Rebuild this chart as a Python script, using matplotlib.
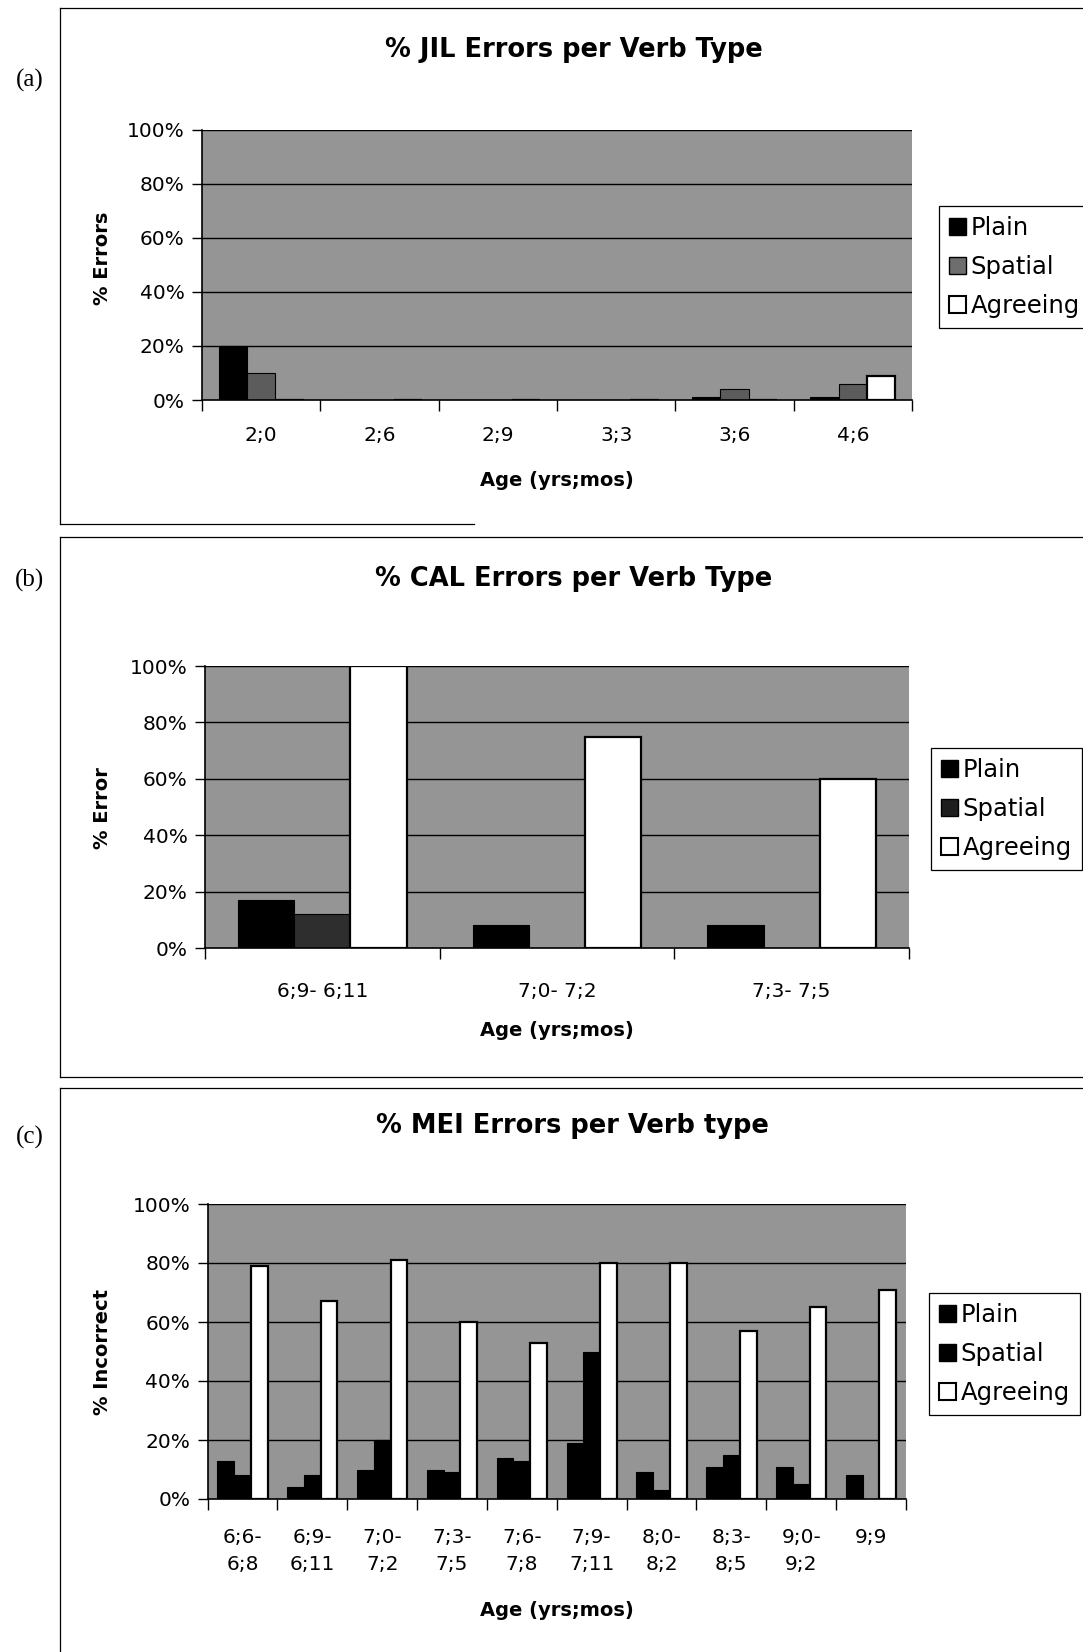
import matplotlib

matplotlib.use("Agg")
import matplotlib.pyplot as plt
import numpy as np
from matplotlib.lines import Line2D
from matplotlib.patches import Patch

W, H = 1083, 1652

# panel (a) JIL
jil_ages = ["2;0", "2;6", "2;9", "3;3", "3;6", "4;6"]
jil_plain = [20, 0, 0, 0, 1, 1]
jil_spatial = [10, 0, 0, 0, 4, 6]
jil_agreeing = [0, 0, 0, 0, 0, 9]

# panel (b) CAL
cal_ages = ["6;9- 6;11", "7;0- 7;2", "7;3- 7;5"]
cal_plain = [17, 8, 8]
cal_spatial = [12, 0, 0]
cal_agreeing = [100, 75, 60]

# panel (c) MEI
mei_ages = ["6;6-\n6;8", "6;9-\n6;11", "7;0-\n7;2", "7;3-\n7;5", "7;6-\n7;8",
            "7;9-\n7;11", "8;0-\n8;2", "8;3-\n8;5", "9;0-\n9;2", "9;9\n"]
mei_plain = [13, 4, 10, 10, 14, 19, 9, 11, 11, 8]
mei_spatial = [8, 8, 20, 9, 13, 50, 3, 15, 5, 0]
mei_agreeing = [79, 67, 81, 60, 53, 80, 80, 57, 65, 71]

yticks = [0, 20, 40, 60, 80, 100]
series_names = ["Plain", "Spatial", "Agreeing"]

BG = "#959595"
SANS = "DejaVu Sans"


def rect(x0, y0, x1, y1):
    return [x0 / W, 1 - y1 / H, (x1 - x0) / W, (y1 - y0) / H]


def fx(x):
    return x / W


def fy(y):
    return 1 - y / H


def hline(fig, y, x0, x1):
    fig.add_artist(Line2D([fx(x0), fx(x1)], [fy(y), fy(y)], color="black", lw=0.9))


def vline(fig, x, y0, y1):
    fig.add_artist(Line2D([fx(x), fx(x)], [fy(y0), fy(y1)], color="black", lw=0.9))


def draw_panel(fig, box, ages, plain, spatial, agreeing, spatial_color, xpad, linespacing=1.2):
    ax = fig.add_axes(rect(*box))
    x = np.arange(len(ages))
    w = 0.24
    ax.set_facecolor(BG)
    for yv in yticks[1:]:
        ax.axhline(yv, color="black", lw=1.0, zorder=1)
    ax.bar(x - w, plain, w, color="black", edgecolor="black", lw=0.8, zorder=2)
    ax.bar(x, spatial, w, color=spatial_color, edgecolor="black", lw=0.8, zorder=2)
    ax.bar(x + w, agreeing, w, color="white", edgecolor="black", lw=1.6, zorder=2)
    ax.set_xlim(-0.5, len(ages) - 0.5)
    ax.set_ylim(0, 100)
    ax.set_yticks(yticks)
    ax.set_yticklabels([f"{v}%" for v in yticks], fontsize=14.5, family=SANS)
    ax.set_xticks(x)
    ax.set_xticklabels(ages, fontsize=14.5, family=SANS, linespacing=linespacing)
    ax.set_xticks(np.arange(len(ages) + 1) - 0.5, minor=True)
    ax.tick_params(axis="x", which="major", length=0, pad=xpad)
    ax.tick_params(axis="x", which="minor", length=8, width=1, direction="out")
    ax.tick_params(axis="y", length=7, width=1, direction="out", pad=5.5)
    for side in ["right", "top"]:
        ax.spines[side].set_visible(False)
    for side in ["left", "bottom"]:
        ax.spines[side].set_linewidth(1.2)
    return ax


def add_legend(fig, x, y, spatial_color):
    handles = [
        Patch(facecolor="black", edgecolor="black"),
        Patch(facecolor=spatial_color, edgecolor="black"),
        Patch(facecolor="white", edgecolor="black", lw=1.5),
    ]
    leg = fig.legend(handles, series_names, loc="upper left",
                     bbox_to_anchor=(fx(x), fy(y)), bbox_transform=fig.transFigure,
                     borderaxespad=0, borderpad=0.4, labelspacing=0.62,
                     handlelength=0.72, handleheight=0.72, handletextpad=0.18,
                     prop={"family": SANS, "size": 17.5}, fancybox=False,
                     framealpha=1, edgecolor="black")
    leg.get_frame().set_linewidth(0.9)


fig = plt.figure(figsize=(W / 100, H / 100), dpi=100)

# frames around the three panels
hline(fig, 8, 60, 1083)
vline(fig, 60, 8, 524)
hline(fig, 524, 60, 474)
hline(fig, 537, 60, 1083)
vline(fig, 60, 537, 1077)
hline(fig, 1077, 60, 1083)
hline(fig, 1088, 60, 1083)
vline(fig, 60, 1088, 1652)

# (a)
draw_panel(fig, (202, 129.5, 912, 400), jil_ages, jil_plain, jil_spatial, jil_agreeing,
           "#5c5c5c", xpad=19)
fig.text(fx(574), fy(50), "% JIL Errors per Verb Type", ha="center", va="center",
         fontsize=18.5, fontweight="bold", family=SANS)
fig.text(fx(557), fy(481), "Age (yrs;mos)", ha="center", va="center",
         fontsize=14, fontweight="bold", family=SANS)
fig.text(fx(102), fy(258), "% Errors", ha="center", va="center", rotation=90,
         fontsize=14, fontweight="bold", family=SANS)
fig.text(fx(30), fy(80), "(a)", ha="center", va="center", fontsize=18,
         family="Liberation Serif")
add_legend(fig, 939, 206, "#6e6e6e")

# (b)
draw_panel(fig, (205, 666, 909, 948), cal_ages, cal_plain, cal_spatial, cal_agreeing,
           "#2e2e2e", xpad=24.5)
fig.text(fx(574), fy(579), "% CAL Errors per Verb Type", ha="center", va="center",
         fontsize=18.5, fontweight="bold", family=SANS)
fig.text(fx(557), fy(1031), "Age (yrs;mos)", ha="center", va="center",
         fontsize=14, fontweight="bold", family=SANS)
fig.text(fx(102), fy(808), "% Error", ha="center", va="center", rotation=90,
         fontsize=14, fontweight="bold", family=SANS)
fig.text(fx(30), fy(580), "(b)", ha="center", va="center", fontsize=18,
         family="Liberation Serif")
add_legend(fig, 931, 748, "#1e1e1e")

# (c)
draw_panel(fig, (207.5, 1204, 906, 1499), mei_ages, mei_plain, mei_spatial, mei_agreeing,
           "black", xpad=21, linespacing=1.55)
fig.text(fx(572), fy(1126), "% MEI Errors per Verb type", ha="center", va="center",
         fontsize=18.5, fontweight="bold", family=SANS)
fig.text(fx(557), fy(1611), "Age (yrs;mos)", ha="center", va="center",
         fontsize=14, fontweight="bold", family=SANS)
fig.text(fx(102), fy(1352), "% Incorrect", ha="center", va="center", rotation=90,
         fontsize=14, fontweight="bold", family=SANS)
fig.text(fx(30), fy(1137), "(c)", ha="center", va="center", fontsize=18,
         family="Liberation Serif")
add_legend(fig, 929, 1293, "black")

fig.savefig("out.png", dpi=100)
